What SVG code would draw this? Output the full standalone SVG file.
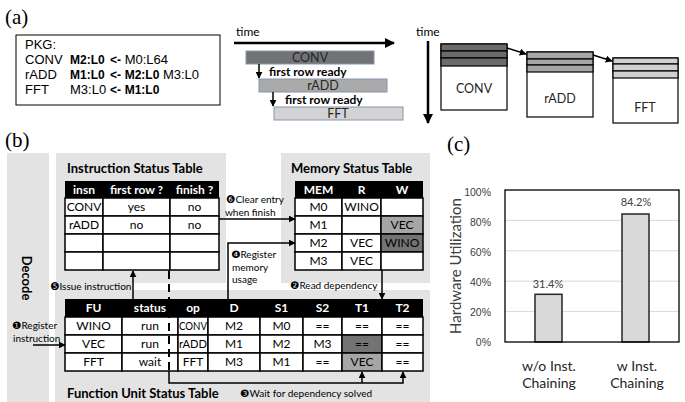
<svg xmlns="http://www.w3.org/2000/svg" width="685" height="402" viewBox="0 0 685 402">
<defs>
<marker id="ah" viewBox="0 0 10 10" refX="9" refY="5" markerWidth="7" markerHeight="7" orient="auto" markerUnits="userSpaceOnUse"><path d="M0,0 L10,5 L0,10 z" fill="#000"/></marker>
<marker id="ahL" viewBox="0 0 10 10" refX="9" refY="5" markerWidth="10" markerHeight="10" orient="auto" markerUnits="userSpaceOnUse"><path d="M0,0 L10,5 L0,10 z" fill="#000"/></marker>
</defs>
<style>
.cal{font-family:Lato,"Liberation Sans",sans-serif}
.ar{font-family:"Liberation Sans",Arial,sans-serif;font-size:13px}
.b{font-weight:bold;font-size:12px}
.ser{font-family:"Liberation Serif","Times New Roman",serif;font-size:21px}
.panel{fill:#e3e3e3}
.cell{fill:#fff;stroke:#000;stroke-width:1.5}
.hdr{fill:#000}
.ht{font-family:Lato,"Liberation Sans",sans-serif;font-size:12px;font-weight:bold;fill:#fff;text-anchor:middle}
.ct{font-family:Lato,"Liberation Sans",sans-serif;font-size:12px;text-anchor:middle;fill:#000}
.title{font-family:Lato,"Liberation Sans",sans-serif;font-weight:bold;font-size:13px}
.lbl{font-family:Lato,"Liberation Sans",sans-serif;font-size:10px}
.num{font-family:"DejaVu Sans",sans-serif;font-size:10.5px}
.conn{stroke:#000;stroke-width:1.5;fill:none}
.bar{stroke:#8595ad;stroke-width:1}
.bt{font-family:Lato,"Liberation Sans",sans-serif;font-size:12.5px;text-anchor:middle;fill:#262626}
.blk{fill:#fff;stroke:#000;stroke-width:1.2}
.s1{fill:#6b6b6b;stroke:#000;stroke-width:1.2}
.s2{fill:#a6a6a6;stroke:#000;stroke-width:1.2}
.s3{fill:#d0d0d0;stroke:#000;stroke-width:1.2}
.tick{font-family:"Liberation Sans",Arial,sans-serif;font-size:10.5px;fill:#404040;text-anchor:end}
</style>

<!-- (a) -->
<text class="ser" x="5" y="24">(a)</text>
<g id="pkg">
<rect x="16" y="35" width="204" height="70" fill="#fff" stroke="#000" stroke-width="1"/>
<text class="ar" x="25" y="49">PKG:</text>
<text class="ar" x="25" y="64">CONV</text>
<text class="ar b" x="70" y="64">M2:L0</text>
<text class="ar" x="110" y="64"><tspan class="b">&lt;-</tspan> M0:L64</text>
<text class="ar" x="25" y="79">rADD</text>
<text class="ar b" x="70" y="79">M1:L0</text>
<text class="ar" x="110" y="79"><tspan class="b">&lt;-</tspan> <tspan class="b">M2:L0</tspan> M3:L0</text>
<text class="ar" x="25" y="94">FFT</text>
<text class="ar" x="70" y="94">M3:L0</text>
<text class="ar" x="110" y="94"><tspan class="b">&lt;-</tspan> <tspan class="b">M1:L0</tspan></text>
</g>

<g id="timeline">
<text class="cal" x="236" y="36" font-size="12">time</text>
<line x1="234" y1="43" x2="394" y2="43" stroke="#000" stroke-width="2.5" marker-end="url(#ahL)"/>
<rect class="bar" x="246" y="51" width="128" height="13" fill="#737373"/>
<text class="bt" x="310" y="62">CONV</text>
<line x1="259" y1="64" x2="259" y2="78" stroke="#000" stroke-width="1.5" marker-end="url(#ah)"/>
<text class="cal" x="269" y="76" font-size="12" font-weight="bold">first row ready</text>
<rect class="bar" x="259" y="79" width="128" height="13" fill="#aaaaaa"/>
<text class="bt" x="323" y="90">rADD</text>
<line x1="273" y1="92" x2="273" y2="106" stroke="#000" stroke-width="1.5" marker-end="url(#ah)"/>
<text class="cal" x="285" y="104" font-size="12" font-weight="bold">first row ready</text>
<rect class="bar" x="274" y="107" width="129" height="13" fill="#d3d3d3"/>
<text class="bt" x="338" y="118">FFT</text>
</g>

<g id="blocks">
<text class="cal" x="416" y="36" font-size="12">time</text>
<line x1="428" y1="41" x2="428" y2="123" stroke="#000" stroke-width="2.5" marker-end="url(#ahL)"/>
<rect class="blk" x="441" y="44" width="66" height="66"/>
<rect class="s1" x="441" y="44" width="66" height="7"/>
<rect class="s1" x="441" y="51" width="66" height="7"/>
<rect class="s1" x="441" y="58" width="66" height="8"/>
<text class="bt" x="474" y="93">CONV</text>
<rect class="blk" x="527" y="52" width="66" height="65"/>
<rect class="s2" x="527" y="52" width="66" height="7"/>
<rect class="s2" x="527" y="59" width="66" height="6"/>
<rect class="s2" x="527" y="65" width="66" height="7"/>
<text class="bt" x="560" y="103">rADD</text>
<rect class="blk" x="613" y="58" width="65" height="65"/>
<rect class="s3" x="613" y="58" width="65" height="6"/>
<rect class="s3" x="613" y="64" width="65" height="7"/>
<rect class="s3" x="613" y="71" width="65" height="7"/>
<text class="bt" x="645" y="112">FFT</text>
<line x1="507" y1="48" x2="526" y2="54" stroke="#000" stroke-width="1.5" marker-end="url(#ah)"/>
<line x1="593" y1="55" x2="612" y2="61" stroke="#000" stroke-width="1.5" marker-end="url(#ah)"/>
</g>

<!-- (b) -->
<text class="ser" x="5" y="147">(b)</text>
<g id="decode">
<rect class="panel" x="7" y="153" width="42" height="249"/>
<text class="title" transform="translate(22,278) rotate(90)" text-anchor="middle">Decode</text>
</g>

<g id="panels">
<rect class="panel" x="56" y="153" width="170" height="130"/>
<rect class="panel" x="281" y="153" width="149" height="130"/>
<rect class="panel" x="55" y="290" width="375" height="112"/>
<rect class="panel" x="56" y="281" width="76" height="11"/>
</g>

<g id="inst-table">
<text class="title" x="67" y="173">Instruction Status Table</text>
<rect class="hdr" x="65" y="181" width="154" height="17"/>
<text class="ht" x="84" y="194">insn</text>
<text class="ht" x="136.5" y="194">first row ?</text>
<text class="ht" x="194.5" y="194">finish ?</text>
<rect class="cell" x="65" y="198" width="38" height="18"/><rect class="cell" x="103" y="198" width="67" height="18"/><rect class="cell" x="170" y="198" width="49" height="18"/>
<rect class="cell" x="65" y="216" width="38" height="18"/><rect class="cell" x="103" y="216" width="67" height="18"/><rect class="cell" x="170" y="216" width="49" height="18"/>
<rect class="cell" x="65" y="234" width="38" height="18"/><rect class="cell" x="103" y="234" width="67" height="18"/><rect class="cell" x="170" y="234" width="49" height="18"/>
<rect class="cell" x="65" y="252" width="38" height="18"/><rect class="cell" x="103" y="252" width="67" height="18"/><rect class="cell" x="170" y="252" width="49" height="18"/>
<text class="ct" x="84" y="211">CONV</text><text class="ct" x="136.5" y="211">yes</text><text class="ct" x="194.5" y="211">no</text>
<text class="ct" x="84" y="229">rADD</text><text class="ct" x="136.5" y="229">no</text><text class="ct" x="194.5" y="229">no</text>
</g>

<g id="mem-table">
<text class="title" x="291" y="173">Memory Status Table</text>
<rect class="hdr" x="295" y="181" width="128" height="17"/>
<text class="ht" x="318.5" y="194">MEM</text>
<text class="ht" x="361.5" y="194">R</text>
<text class="ht" x="402" y="194">W</text>
<rect class="cell" x="295" y="198" width="47" height="18"/><rect class="cell" x="342" y="198" width="39" height="18"/><rect class="cell" x="381" y="198" width="42" height="18"/>
<rect class="cell" x="295" y="216" width="47" height="18"/><rect class="cell" x="342" y="216" width="39" height="18"/><rect class="cell" x="381" y="216" width="42" height="18" style="fill:#a6a6a6"/>
<rect class="cell" x="295" y="234" width="47" height="18"/><rect class="cell" x="342" y="234" width="39" height="18"/><rect class="cell" x="381" y="234" width="42" height="18" style="fill:#737373"/>
<rect class="cell" x="295" y="252" width="47" height="18"/><rect class="cell" x="342" y="252" width="39" height="18"/><rect class="cell" x="381" y="252" width="42" height="18"/>
<text class="ct" x="318.5" y="211">M0</text><text class="ct" x="361.5" y="211">WINO</text>
<text class="ct" x="318.5" y="229">M1</text><text class="ct" x="402" y="229">VEC</text>
<text class="ct" x="318.5" y="247">M2</text><text class="ct" x="361.5" y="247">VEC</text><text class="ct" x="402" y="247">WINO</text>
<text class="ct" x="318.5" y="265">M3</text><text class="ct" x="361.5" y="265">VEC</text>
</g>

<g id="fu-table">
<rect class="hdr" x="65" y="299" width="358" height="18"/>
<text class="ht" x="93.5" y="312">FU</text>
<text class="ht" x="150" y="312">status</text>
<text class="ht" x="193" y="312">op</text>
<text class="ht" x="234" y="312">D</text>
<text class="ht" x="281.5" y="312">S1</text>
<text class="ht" x="322.5" y="312">S2</text>
<text class="ht" x="362" y="312">T1</text>
<text class="ht" x="402.5" y="312">T2</text>
<g>
<rect class="cell" x="65" y="317" width="57" height="18"/><rect class="cell" x="122" y="317" width="56" height="18"/><rect class="cell" x="178" y="317" width="30" height="18"/><rect class="cell" x="208" y="317" width="52" height="18"/><rect class="cell" x="260" y="317" width="43" height="18"/><rect class="cell" x="303" y="317" width="39" height="18"/><rect class="cell" x="342" y="317" width="40" height="18"/><rect class="cell" x="382" y="317" width="41" height="18"/>
<rect class="cell" x="65" y="335" width="57" height="18"/><rect class="cell" x="122" y="335" width="56" height="18"/><rect class="cell" x="178" y="335" width="30" height="18"/><rect class="cell" x="208" y="335" width="52" height="18"/><rect class="cell" x="260" y="335" width="43" height="18"/><rect class="cell" x="303" y="335" width="39" height="18"/><rect class="cell" x="342" y="335" width="40" height="18" style="fill:#737373"/><rect class="cell" x="382" y="335" width="41" height="18"/>
<rect class="cell" x="65" y="353" width="57" height="18"/><rect class="cell" x="122" y="353" width="56" height="18"/><rect class="cell" x="178" y="353" width="30" height="18"/><rect class="cell" x="208" y="353" width="52" height="18"/><rect class="cell" x="260" y="353" width="43" height="18"/><rect class="cell" x="303" y="353" width="39" height="18"/><rect class="cell" x="342" y="353" width="40" height="18" style="fill:#a6a6a6"/><rect class="cell" x="382" y="353" width="41" height="18"/>
</g>
<text class="ct" x="93.5" y="330">WINO</text><text class="ct" x="150" y="330">run</text><text class="ct" x="193" y="330" textLength="28" lengthAdjust="spacingAndGlyphs">CONV</text><text class="ct" x="234" y="330">M2</text><text class="ct" x="281.5" y="330">M0</text><text class="ct" x="322.5" y="330">==</text><text class="ct" x="362" y="330">==</text><text class="ct" x="402.5" y="330">==</text>
<text class="ct" x="93.5" y="348">VEC</text><text class="ct" x="150" y="348">run</text><text class="ct" x="193" y="348" textLength="28" lengthAdjust="spacingAndGlyphs">rADD</text><text class="ct" x="234" y="348">M1</text><text class="ct" x="281.5" y="348">M2</text><text class="ct" x="322.5" y="348">M3</text><text class="ct" x="362" y="348">==</text><text class="ct" x="402.5" y="348">==</text>
<text class="ct" x="93.5" y="366">FFT</text><text class="ct" x="150" y="366">wait</text><text class="ct" x="193" y="366">FFT</text><text class="ct" x="234" y="366">M3</text><text class="ct" x="281.5" y="366">M1</text><text class="ct" x="322.5" y="366">==</text><text class="ct" x="362" y="366">VEC</text><text class="ct" x="402.5" y="366">==</text>
<text class="title" x="67" y="398">Function Unit Status Table</text>
</g>

<g id="connectors">
<line class="conn" x1="219" y1="219" x2="295" y2="219" marker-end="url(#ah)"/>
<path class="conn" d="M228,299 V243 H295" marker-end="url(#ah)"/>
<line class="conn" x1="133" y1="299" x2="133" y2="271" marker-end="url(#ah)"/>
<line class="conn" x1="33" y1="345" x2="65" y2="345" marker-end="url(#ah)"/>
<line class="conn" x1="382" y1="270" x2="382" y2="299" marker-end="url(#ah)"/>
<line x1="169" y1="271" x2="169" y2="371" stroke="#000" stroke-width="2" stroke-dasharray="8,5"/>
<path class="conn" d="M169,371 V383 H403 V372" marker-end="url(#ah)"/>
<line class="conn" x1="362" y1="383" x2="362" y2="372" marker-end="url(#ah)"/>
</g>

<g id="labels">
<text class="lbl" x="226" y="203"><tspan class="num">❻</tspan>Clear entry</text>
<text class="lbl" x="225" y="216">when finish</text>
<text class="lbl" x="231" y="258"><tspan class="num">❹</tspan>Register</text>
<text class="lbl" x="232" y="271">memory</text>
<text class="lbl" x="232" y="283">usage</text>
<text class="lbl" x="50" y="290"><tspan class="num">❺</tspan>Issue instruction</text>
<text class="lbl" x="12" y="329"><tspan class="num">❶</tspan>Register</text>
<text class="lbl" x="13" y="342">instruction</text>
<text class="lbl" x="290" y="289"><tspan class="num">❷</tspan>Read dependency</text>
<text class="lbl" x="240" y="397"><tspan class="num">❸</tspan>Wait for dependency solved</text>
</g>

<!-- (c) -->
<text class="ser" x="447" y="151">(c)</text>
<g id="chart">
<g stroke="#d9d9d9" stroke-width="1">
<line x1="505" y1="220.4" x2="679" y2="220.4"/>
<line x1="505" y1="250.8" x2="679" y2="250.8"/>
<line x1="505" y1="281.2" x2="679" y2="281.2"/>
<line x1="505" y1="311.6" x2="679" y2="311.6"/>
</g>
<rect x="535" y="294.3" width="27" height="47.7" fill="#d9d9d9" stroke="#262626" stroke-width="1.5"/>
<rect x="622" y="214" width="27" height="128" fill="#d9d9d9" stroke="#262626" stroke-width="1.5"/>
<rect x="505" y="190" width="174" height="152" fill="none" stroke="#000" stroke-width="1.3"/>
<text class="tick" x="491" y="196">100%</text>
<text class="tick" x="491" y="226">80%</text>
<text class="tick" x="491" y="256">60%</text>
<text class="tick" x="491" y="286">40%</text>
<text class="tick" x="491" y="316">20%</text>
<text class="tick" x="491" y="346">0%</text>
<text class="cal" transform="translate(461,266) rotate(-90)" text-anchor="middle" font-size="15" fill="#404040">Hardware Utilization</text>
<text class="cal" x="548" y="288" text-anchor="middle" font-size="11" fill="#404040">31.4%</text>
<text class="cal" x="636" y="206" text-anchor="middle" font-size="11" fill="#404040">84.2%</text>
<text class="cal" x="549" y="371" text-anchor="middle" font-size="14" fill="#262626">w/o Inst.</text>
<text class="cal" x="549" y="388" text-anchor="middle" font-size="14" fill="#262626">Chaining</text>
<text class="cal" x="637" y="371" text-anchor="middle" font-size="14" fill="#262626">w Inst.</text>
<text class="cal" x="637" y="388" text-anchor="middle" font-size="14" fill="#262626">Chaining</text>
</g>
</svg>
